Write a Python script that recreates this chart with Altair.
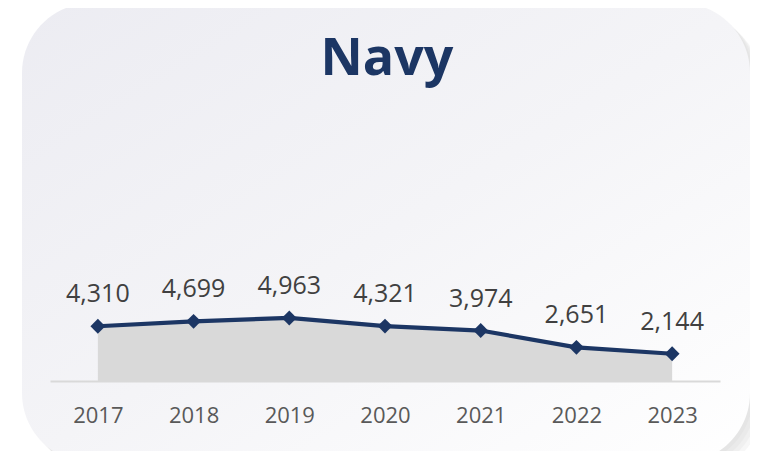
import altair as alt
import pandas as pd

years = ["2017", "2018", "2019", "2020", "2021", "2022", "2023"]
values = [4310, 4699, 4963, 4321, 3974, 2651, 2144]
labels = ["4,310", "4,699", "4,963", "4,321", "3,974", "2,651", "2,144"]
title_text = "Navy"

df = pd.DataFrame({"year": years, "value": values, "label": labels})

NAVY = "#1c3664"
W, H = 670, 254

one = alt.Data(values=[{"k": 1}])

def card_rect(dx, dy, color, opacity):
    return alt.Chart(one).mark_rect(
        cornerRadius=70, fill=color, opacity=opacity
    ).encode(
        x=alt.value(-28 + dx), x2=alt.value(700 + dx),
        y=alt.value(-124 + dy), y2=alt.value(336 + dy),
    )

shadows = [card_rect(d, d, "#d0d0d0", 0.18) for d in (3, 6, 9, 12)]

card = alt.Chart(one).mark_rect(
    cornerRadius=70,
    fill=alt.Gradient(
        gradient="linear",
        stops=[alt.GradientStop(color="#ececf2", offset=0),
               alt.GradientStop(color="#f4f4f7", offset=0.5),
               alt.GradientStop(color="#ffffff", offset=1)],
        x1=0, y1=0, x2=1, y2=1,
    ),
).encode(
    x=alt.value(-28), x2=alt.value(700),
    y=alt.value(-124), y2=alt.value(336),
)

title = alt.Chart(one).mark_text(
    fontSize=52, font="Open Sans", fontWeight="bold", color=NAVY,
    baseline="alphabetic", align="center",
).encode(x=alt.value(337), y=alt.value(-52), text=alt.value(title_text))

xenc = alt.X(
    "year:N", sort=years,
    scale=alt.Scale(type="point", padding=0.5),
    axis=alt.Axis(
        title=None, ticks=False, grid=False, labelAngle=0,
        domainColor="#d9d9d9", domainWidth=2,
        labelFontSize=22, labelColor="#595959", labelFont="Open Sans",
        labelPadding=24, zindex=1,
    ),
)
yenc = alt.Y("value:Q", scale=alt.Scale(domain=[0, 20000]), axis=None)

base = alt.Chart(df).encode(x=xenc, y=yenc)

area = base.mark_area(color="#d9d9d9")
line = base.mark_line(color=NAVY, strokeWidth=4.2)
pts = base.mark_point(shape="diamond", filled=True, size=220, color=NAVY, opacity=1)
txt = base.mark_text(
    dy=-24, baseline="alphabetic", fontSize=25, font="Open Sans", color="#404040"
).encode(text="label:N")

chart = alt.layer(*shadows, card, title, area, line, pts, txt).properties(
    width=W, height=H,
    padding={"left": 42, "top": 119, "right": 30, "bottom": 70},
    autosize=alt.AutoSizeParams(type="none"),
).configure_view(stroke=None)

chart.save("out.html", embed_options={"renderer": "svg", "actions": False})
